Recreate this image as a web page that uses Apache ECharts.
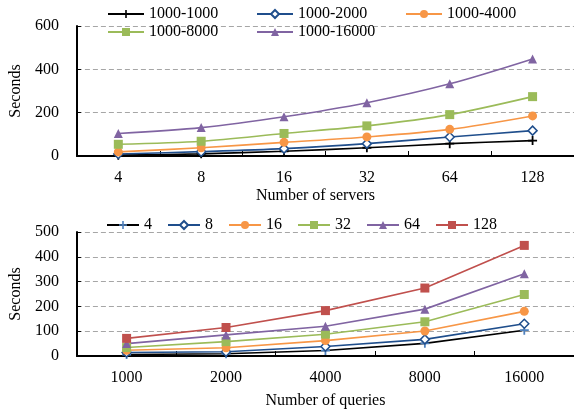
<!DOCTYPE html>
<html>
<head>
<meta charset="utf-8">
<script src="https://cdn.jsdelivr.net/npm/echarts@6/dist/echarts.min.js"></script>
<style>
html,body{margin:0;padding:0;background:#fff;}
#chart{width:574px;height:410px;}
</style>
</head>
<body>
<div id="chart"></div>
<script>
// ---- Data ----
const serverCats = ['4', '8', '16', '32', '64', '128'];
const s1000_1000  = [4, 10, 22, 38, 57, 71];
const s1000_2000  = [9, 20, 34, 57, 88, 117];
const s1000_4000  = [19, 38, 63, 88, 123, 185];
const s1000_8000  = [54, 68, 104, 139, 191, 274];
const s1000_16000 = [104, 131, 181, 246, 333, 448];

const queryCats = ['1000', '2000', '4000', '8000', '16000'];
const q4   = [6, 9, 22, 51, 104];
const q8   = [14, 17, 38, 67, 130];
const q16  = [23, 33, 62, 101, 180];
const q32  = [34, 58, 88, 138, 248];
const q64  = [50, 85, 120, 189, 332];
const q128 = [71, 115, 183, 274, 446];

const topYTicks = {min: 0, max: 600, interval: 200};
const botYTicks = {min: 0, max: 500, interval: 100};

// ---- Styling ----
const FONT = 'Liberation Serif';
const PLUS = 'path://M4,0H6V10H4Z M0,4H10V6H0Z';
const C = {
  black: '#000000', navy: '#1F4E8C', orange: '#F79646', green: '#9BBB59',
  purple: '#8064A2', red: '#C0504D', blue: '#4F81BD'
};

function mkSeries(name, data, xi, color, symbol, size, smooth, markerColor, empty) {
  return {
    name, type: 'line', data, xAxisIndex: xi, yAxisIndex: xi,
    smooth: smooth ? 0.3 : false,
    symbol, symbolSize: size, showSymbol: true,
    lineStyle: {color, width: 1.6},
    itemStyle: empty
      ? {color: '#fff', borderColor: markerColor || color, borderWidth: 1.5}
      : {color: markerColor || color, borderWidth: 0},
    emphasis: {disabled: true},
    animation: false,
    z: 3
  };
}

const axisText = {fontFamily: FONT, fontSize: 16, color: '#000'};

function xAxis(gi, cats, name, nameGap, namePad) {
  return {
    type: 'category', gridIndex: gi, data: cats, boundaryGap: true,
    name, nameLocation: 'middle', nameGap,
    nameTextStyle: Object.assign({padding: namePad}, axisText),
    axisLine: {show: true, lineStyle: {color: '#000', width: 2}},
    axisTick: {show: true, inside: true, length: 5, lineStyle: {color: '#000', width: 1}},
    axisLabel: Object.assign({margin: 14}, axisText),
    splitLine: {show: false}
  };
}
function yAxis(gi, ticks) {
  return {
    type: 'value', gridIndex: gi, min: ticks.min, max: ticks.max, interval: ticks.interval,
    name: 'Seconds', nameLocation: 'middle', nameGap: 46,
    nameTextStyle: axisText,
    axisLine: {show: true, lineStyle: {color: '#000', width: 2}},
    axisTick: {show: true, inside: true, length: 4, lineStyle: {color: '#000'}},
    axisLabel: Object.assign({margin: 18}, axisText),
    splitLine: {show: true, lineStyle: {color: '#A6A6A6', type: [5, 3], width: 1}}
  };
}

const legendBase = {
  orient: 'horizontal', padding: 0, itemWidth: 36, itemHeight: 10, itemGap: 10,
  textStyle: {fontFamily: FONT, fontSize: 16, color: '#000', width: 97, lineHeight: 18},
  selectedMode: false
};

const option = {
  animation: false,
  backgroundColor: '#fff',
  legend: [
    Object.assign({}, legendBase, {left: 107, top: 5, data: ['1000-1000', '1000-2000', '1000-4000']}),
    Object.assign({}, legendBase, {left: 107, top: 23, data: ['1000-8000', '1000-16000']}),
    Object.assign({}, legendBase, {left: 106, top: 216, itemWidth: 32, itemGap: 15,
      textStyle: {fontFamily: FONT, fontSize: 16, color: '#000', lineHeight: 18},
      data: ['4', '8', '16', '32', '64', '128']})
  ],
  grid: [
    {left: 72, right: 0, top: 26, bottom: 254, containLabel: false},
    {left: 73, right: 0, top: 232, bottom: 46, containLabel: false}
  ],
  xAxis: [xAxis(0, serverCats, 'Number of servers', 32, [0, 20, 0, 0]),
          xAxis(1, queryCats, 'Number of queries', 37, 0)],
  yAxis: [yAxis(0, topYTicks), yAxis(1, botYTicks)],
  series: [
    mkSeries('1000-1000', s1000_1000, 0, C.black, PLUS, 9, true),
    mkSeries('1000-2000', s1000_2000, 0, C.navy, 'diamond', 9, true, C.navy, true),
    mkSeries('1000-4000', s1000_4000, 0, C.orange, 'circle', 9, true),
    mkSeries('1000-8000', s1000_8000, 0, C.green, 'rect', 9, true),
    mkSeries('1000-16000', s1000_16000, 0, C.purple, 'triangle', 9, true),
    mkSeries('4', q4, 1, C.black, PLUS, 9, false, C.blue),
    mkSeries('8', q8, 1, C.navy, 'diamond', 9, false, C.navy, true),
    mkSeries('16', q16, 1, C.orange, 'circle', 9, false),
    mkSeries('32', q32, 1, C.green, 'rect', 9, false),
    mkSeries('64', q64, 1, C.purple, 'triangle', 9, false),
    mkSeries('128', q128, 1, C.red, 'rect', 9, false)
  ]
};

const chart = echarts.init(document.getElementById('chart'), null, {renderer: 'canvas'});
chart.setOption(option);
</script>
</body>
</html>
